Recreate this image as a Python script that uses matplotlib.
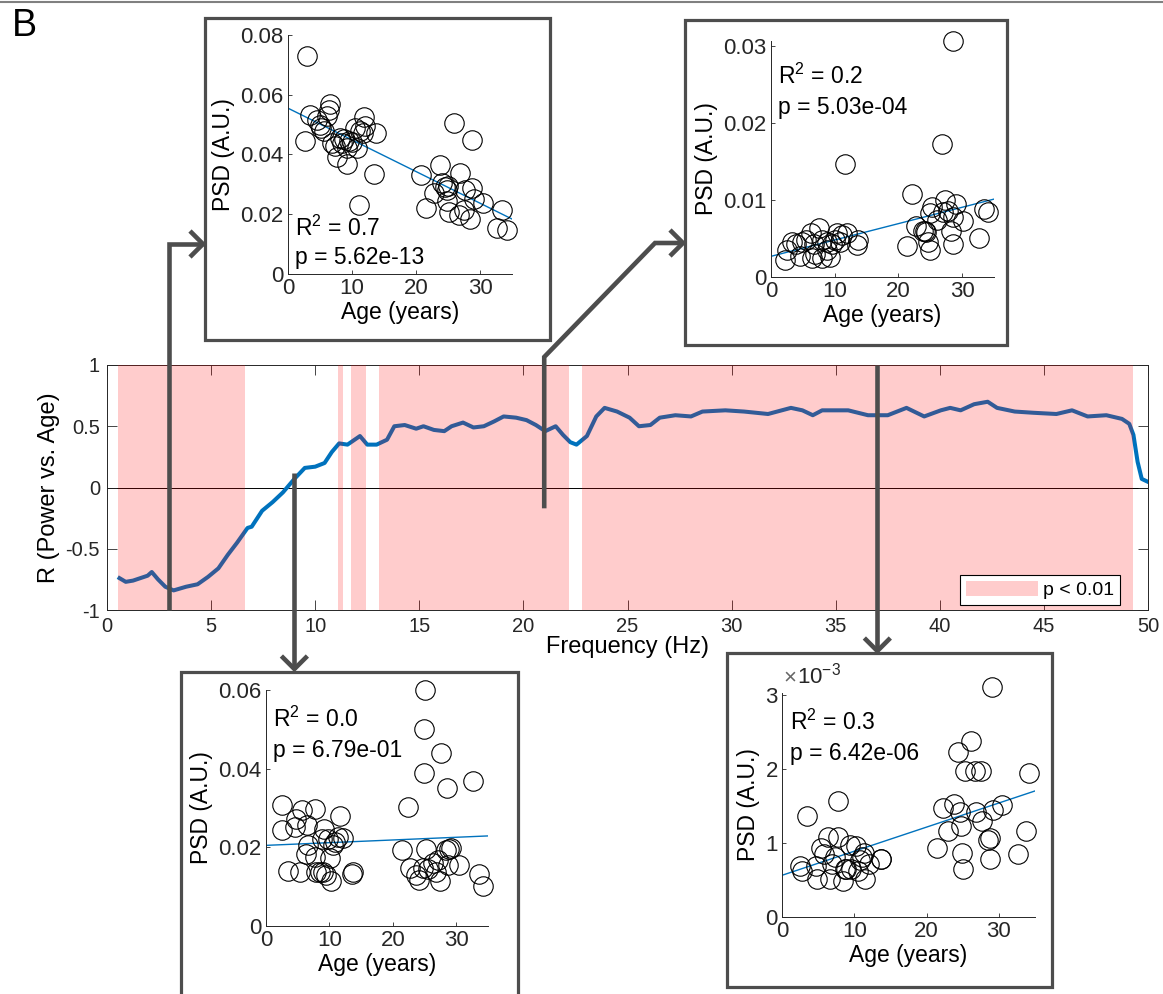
import numpy as np
import matplotlib
matplotlib.use('Agg')
import matplotlib.pyplot as plt
from matplotlib.patches import Patch, Rectangle

plt.rcParams['font.family'] = ['Liberation Sans', 'DejaVu Sans']
plt.rcParams['axes.unicode_minus'] = False
plt.rcParams['mathtext.fontset'] = 'custom'
plt.rcParams['mathtext.rm'] = 'Liberation Sans'
plt.rcParams['mathtext.it'] = 'Liberation Sans'

# ---- main panel: correlation of power with age across frequency ----
freq = [0.6, 0.9, 1.25, 1.6, 1.95, 2.15, 2.45, 2.8, 3.2, 3.8, 4.35, 4.85, 5.35, 5.8, 6.25,
        6.75, 6.95, 7.45, 7.95, 8.45, 9.0, 9.5, 10.0, 10.45, 10.8, 11.15, 11.55, 12.15, 12.5,
        12.95, 13.45, 13.8, 14.3, 14.85, 15.2, 15.7, 16.2, 16.55, 17.1, 17.6, 18.1, 18.6,
        19.05, 19.65, 20.15, 20.6, 21.05, 21.55, 21.9, 22.25, 22.55, 23.05, 23.5, 23.9, 24.5,
        25.1, 25.55, 26.1, 26.55, 27.3, 28.05, 28.6, 29.7, 30.6, 31.75, 32.85, 33.4, 33.9,
        34.35, 35.6, 36.55, 37.5, 38.4, 39.25, 40.05, 40.5, 41.0, 41.65, 42.3, 42.75, 43.6,
        44.5, 45.6, 46.35, 47.1, 48.0, 48.75, 49.1, 49.3, 49.5, 49.7, 49.95]
r_vals = [-0.74, -0.77, -0.76, -0.74, -0.72, -0.69, -0.75, -0.81, -0.84, -0.81, -0.79, -0.73,
          -0.66, -0.55, -0.45, -0.33, -0.32, -0.19, -0.12, -0.04, 0.07, 0.16, 0.17, 0.20, 0.29,
          0.36, 0.35, 0.42, 0.35, 0.35, 0.39, 0.50, 0.51, 0.48, 0.50, 0.47, 0.46, 0.50, 0.53,
          0.49, 0.50, 0.54, 0.58, 0.57, 0.55, 0.51, 0.46, 0.50, 0.43, 0.37, 0.35, 0.42, 0.58,
          0.65, 0.62, 0.57, 0.50, 0.51, 0.57, 0.59, 0.58, 0.62, 0.63, 0.62, 0.60, 0.65, 0.63,
          0.59, 0.63, 0.63, 0.59, 0.59, 0.65, 0.58, 0.63, 0.65, 0.63, 0.68, 0.70, 0.65, 0.62,
          0.61, 0.60, 0.63, 0.58, 0.59, 0.56, 0.52, 0.43, 0.21, 0.07, 0.05]
sig_start = [0.55, 11.1, 11.7, 13.05, 22.8]
sig_end = [6.65, 11.35, 12.45, 22.2, 49.3]
r_ticks = [-1, -0.5, 0, 0.5, 1]
r_ticklabels = ['-1', '-0.5', '0', '0.5', '1']

# ---- insets: PSD vs age at selected frequencies ----
ages1 = [2.9, 2.6, 3.4, 4.5, 4.95, 5.2, 5.6, 6.1, 6.6, 6.4, 6.8, 7.4, 7.7, 8.1, 8.45, 8.8, 9.2,
         9.5, 10.0, 10.4, 10.8, 11.05, 11.3, 11.8, 12.1, 11.7, 13.8, 13.5, 9.2, 21.5, 20.85,
         22.8, 23.8, 24.1, 24.6, 24.9, 24.8, 25.1, 25.9, 26.9, 26.7, 27.7, 27.5, 28.5, 28.8,
         28.8, 29.05, 30.4, 33.5, 32.7, 34.2, 25.0]
psd1 = [0.073, 0.0446, 0.0531, 0.0516, 0.0499, 0.0488, 0.0477, 0.0529, 0.0569, 0.0549, 0.044,
        0.0427, 0.0393, 0.0455, 0.0438, 0.0451, 0.0369, 0.0446, 0.0443, 0.0488, 0.0421, 0.0232,
        0.0477, 0.0527, 0.0494, 0.0471, 0.0471, 0.0335, 0.0421, 0.0221, 0.033, 0.0271, 0.0365,
        0.0304, 0.0291, 0.0282, 0.0245, 0.0206, 0.0505, 0.0338, 0.0198, 0.0282, 0.0215, 0.0184,
        0.0449, 0.0287, 0.0251, 0.0237, 0.0215, 0.0154, 0.0146, 0.0295]
fit1 = [0.0555, 0.0184]

ages2 = [2.25, 2.5, 3.3, 4.6, 4.85, 5.5, 6.2, 6.4, 6.9, 7.6, 8.0, 8.8, 9.3, 8.8, 10.1, 10.3,
         10.85, 11.1, 11.6, 11.9, 13.5, 13.7, 9.5, 6.7, 4.0, 8.0, 21.4, 22.2, 22.7, 23.9, 24.2,
         24.4, 24.7, 24.9, 24.9, 25.2, 26.0, 26.8, 27.3, 27.0, 27.8, 28.3, 28.6, 28.5, 29.1,
         30.1, 32.6, 33.5, 34.1, 28.6]
psd2 = [0.00224, 0.00345, 0.00453, 0.00268, 0.00453, 0.00475, 0.0057, 0.0025, 0.003, 0.0064,
        0.00475, 0.00354, 0.00259, 0.0045, 0.00475, 0.0057, 0.0045, 0.0054, 0.0146, 0.0057,
        0.0041, 0.00475, 0.0043, 0.0043, 0.0043, 0.0024, 0.004, 0.0107, 0.0066, 0.006, 0.006,
        0.0058, 0.0045, 0.0035, 0.0083, 0.0091, 0.0074, 0.0172, 0.01, 0.0084, 0.0085, 0.006,
        0.0043, 0.0306, 0.0095, 0.0073, 0.0051, 0.0088, 0.0084, 0.0078]
fit2 = [0.00268, 0.0101]

ages3 = [2.6, 2.5, 3.4, 4.6, 4.8, 5.6, 5.35, 6.4, 6.7, 6.3, 7.7, 7.7, 7.9, 8.5, 9.0, 9.1, 8.75,
         9.8, 10.1, 10.2, 10.6, 10.85, 11.4, 11.6, 12.1, 13.7, 13.6, 9.5, 21.5, 22.4, 22.65,
         23.6, 24.2, 24.75, 25.0, 24.9, 24.9, 25.3, 25.5, 26.3, 27.1, 26.8, 27.4, 27.6, 28.4,
         28.85, 29.2, 28.7, 28.6, 30.4, 32.6, 33.6, 34.2]
psd3 = [0.0307, 0.0244, 0.014, 0.0252, 0.0273, 0.0294, 0.0137, 0.0258, 0.0205, 0.0184, 0.0297,
        0.0176, 0.0137, 0.0137, 0.0137, 0.0246, 0.0222, 0.0222, 0.0173, 0.0114, 0.0205, 0.0214,
        0.0227, 0.028, 0.0225, 0.0137, 0.0131, 0.0129, 0.0194, 0.0303, 0.0148, 0.0129, 0.0116,
        0.0148, 0.06, 0.0501, 0.0388, 0.0195, 0.0146, 0.0159, 0.0167, 0.0137, 0.0114, 0.0439,
        0.0193, 0.0197, 0.0199, 0.0156, 0.035, 0.0154, 0.0368, 0.0131, 0.0102]
fit3 = [0.0205, 0.0229]

ages4 = [2.45, 2.7, 3.4, 4.75, 4.9, 5.4, 5.8, 6.4, 6.6, 6.9, 7.8, 7.8, 8.45, 8.7, 8.9, 9.4,
         10.3, 10.5, 10.75, 11.0, 11.4, 11.5, 12.1, 13.7, 13.75, 9.6, 7.3, 21.5, 22.3, 22.9,
         23.8, 24.3, 24.6, 24.8, 24.9, 25.05, 25.3, 26.1, 26.7, 26.9, 27.5, 27.7, 28.5, 28.75,
         28.75, 29.0, 29.2, 30.4, 32.7, 33.7, 34.15]
# inset 4 values in units of 1e-3
psd4 = [0.69, 0.62, 1.36, 0.69, 0.51, 0.94, 0.85, 1.08, 0.51, 0.72, 1.57, 1.08, 0.49,
        0.65, 0.65, 0.97, 0.96, 0.62, 0.77, 0.81, 0.87, 0.52, 0.72, 0.79, 0.78, 0.65,
        0.81, 0.94, 1.48, 1.16, 1.53, 2.23, 1.42, 1.23, 0.87, 0.65, 1.98, 2.38, 1.98,
        1.42, 1.98, 1.30, 1.04, 1.07, 0.79, 3.11, 1.45, 1.51, 0.85, 1.16, 1.95]
fit4 = [0.564, 1.705]

stats = [('0.7', '5.62e-13'), ('0.2', '5.03e-04'), ('0.0', '6.79e-01'), ('0.3', '6.42e-06')]
# frequency each inset is taken at, and the R level where its arrow starts
arrow_freq = [3, 21, 9, 37]
arrow_r = [-1, -0.17, 0.12, 1]

W, H = 1163, 994
GRAY = '#4d4d4d'
BLUE = '#0072BD'
fig = plt.figure(figsize=(W / 100, H / 100), dpi=100)


def frac(x0, y0, x1, y1):
    # pixel box measured from top-left -> figure fraction rect
    return [x0 / W, 1 - y1 / H, (x1 - x0) / W, (y1 - y0) / H]


ax = fig.add_axes(frac(107, 365, 1148, 610))
ax.plot(freq, r_vals, color=BLUE, lw=2.9, zorder=2)
for s, e in zip(sig_start, sig_end):
    ax.axvspan(s, e, facecolor='red', alpha=0.2, lw=0, zorder=3)
ax.axhline(0, color='black', lw=0.7, zorder=1)
ax.set_xlim(0, 50)
ax.set_ylim(-1, 1)
ax.set_xticks(range(0, 51, 5))
ax.set_yticks(r_ticks)
ax.set_yticklabels(r_ticklabels)
ax.tick_params(direction='in', top=True, right=True, length=7, width=0.6,
               labelsize=14.5, colors='#262626', pad=5)
for sp in ax.spines.values():
    sp.set_color('#262626')
    sp.set_linewidth(0.7)
ax.set_xlabel('Frequency (Hz)', fontsize=17, labelpad=0)
ax.set_ylabel('R (Power vs. Age)', fontsize=17, labelpad=4)
leg = ax.legend(handles=[Patch(facecolor='red', alpha=0.2, edgecolor='none', label='p < 0.01')],
                loc='lower right', bbox_to_anchor=(0.973, 0.02), borderaxespad=0,
                fancybox=False, edgecolor='black', framealpha=1, fontsize=14,
                handlelength=3.7, handleheight=0.8, handletextpad=0.25, borderpad=0.3)
leg.get_frame().set_linewidth(0.8)


def inset(rect, ages, psd, fit, ylim, yticks, yticklabels, stat, txt_y):
    a = fig.add_axes(rect)
    a.plot(ages, psd, 'o', ms=14, mfc='none', mec='black', mew=0.8, clip_on=False, zorder=3)
    a.plot([0, 35], fit, color=BLUE, lw=1, zorder=2)
    a.set_xlim(0, 35)
    a.set_ylim(*ylim)
    a.set_xticks([0, 10, 20, 30])
    a.set_yticks(yticks)
    a.set_yticklabels(yticklabels)
    a.spines['top'].set_visible(False)
    a.spines['right'].set_visible(False)
    for sp in ('left', 'bottom'):
        a.spines[sp].set_color('#262626')
        a.spines[sp].set_linewidth(0.7)
    a.tick_params(direction='in', length=3, width=0.6, labelsize=16, colors='#262626', pad=3)
    a.set_xlabel('Age (years)', fontsize=16.5, labelpad=1)
    a.set_ylabel('PSD (A.U.)', fontsize=16.5, labelpad=4)
    a.text(0.03, txt_y[0], 'R$^{2}$ = ' + stat[0], transform=a.transAxes,
           fontsize=16.5, va='center', ha='left')
    a.text(0.03, txt_y[1], 'p = ' + stat[1], transform=a.transAxes,
           fontsize=16.5, va='center', ha='left')
    return a


inset(frac(288, 35, 512, 274), ages1, psd1, fit1, (0, 0.08), [0, 0.02, 0.04, 0.06, 0.08],
      ['0', '0.02', '0.04', '0.06', '0.08'], stats[0], (0.19, 0.067))
inset(frac(771, 41, 994, 277), ages2, psd2, fit2, (0, 0.0306), [0, 0.01, 0.02, 0.03],
      ['0', '0.01', '0.02', '0.03'], stats[1], (0.85, 0.72))
inset(frac(266, 690, 488, 926), ages3, psd3, fit3, (0, 0.06), [0, 0.02, 0.04, 0.06],
      ['0', '0.02', '0.04', '0.06'], stats[2], (0.875, 0.745))
a4 = inset(frac(782, 693, 1035, 917), ages4, psd4, fit4, (0, 3.03), [0, 1, 2, 3],
           ['0', '1', '2', '3'], stats[3], (0.87, 0.73))
a4.text(0.005, 1.02, '\u00d7', transform=a4.transAxes, fontsize=16, color='#666666',
        ha='left', va='bottom')
a4.text(0.06, 1.02, r'10$^{\mathregular{-3}}$', transform=a4.transAxes, fontsize=16,
        color='#262626', ha='left', va='bottom')

# ---- overlay in pixel coordinates for frames and arrows ----
ov = fig.add_axes([0, 0, 1, 1], zorder=10)
ov.set_xlim(0, W)
ov.set_ylim(0, H)
ov.set_facecolor('none')
ov.axis('off')

boxes = [(205, 18, 550, 340), (685, 20, 1007, 345), (181, 672, 518, 1010), (727, 653, 1052, 987)]
for x0, y0, x1, y1 in boxes:
    ov.add_patch(Rectangle((x0, H - y1), x1 - x0, y1 - y0, fill=False, ec=GRAY, lw=2.3))

ov.plot([0, W], [H - 2, H - 2], color='#808080', lw=1.5)


def draw_arrow(pts, direction, size=13):
    xs, ys = zip(*pts)
    ov.plot(xs, ys, color=GRAY, lw=3.3, solid_joinstyle='miter', solid_capstyle='butt')
    x, y = pts[-1]
    if direction == 'right':
        head = [(x - size, y + size), (x, y), (x - size, y - size)]
    else:
        head = [(x - size, y + size), (x, y), (x + size, y + size)]
    hx, hy = zip(*head)
    ov.plot(hx, hy, color=GRAY, lw=3.3, solid_joinstyle='miter', solid_capstyle='butt')


starts = [ax.transData.transform((f, r)) for f, r in zip(arrow_freq, arrow_r)]
sx, sy = starts[0]
draw_arrow([(sx, sy), (sx, H - 244), (203, H - 244)], 'right')
sx, sy = starts[1]
draw_arrow([(sx, sy), (sx, H - 357), (655, H - 243), (683, H - 243)], 'right')
sx, sy = starts[2]
draw_arrow([(sx, sy), (sx, H - 669)], 'down')
sx, sy = starts[3]
draw_arrow([(sx, sy), (sx, H - 651)], 'down')

fig.text(12 / W, 1 - 26 / H, 'B', fontsize=27, va='center', ha='left')

fig.savefig('out.png', dpi=100)
